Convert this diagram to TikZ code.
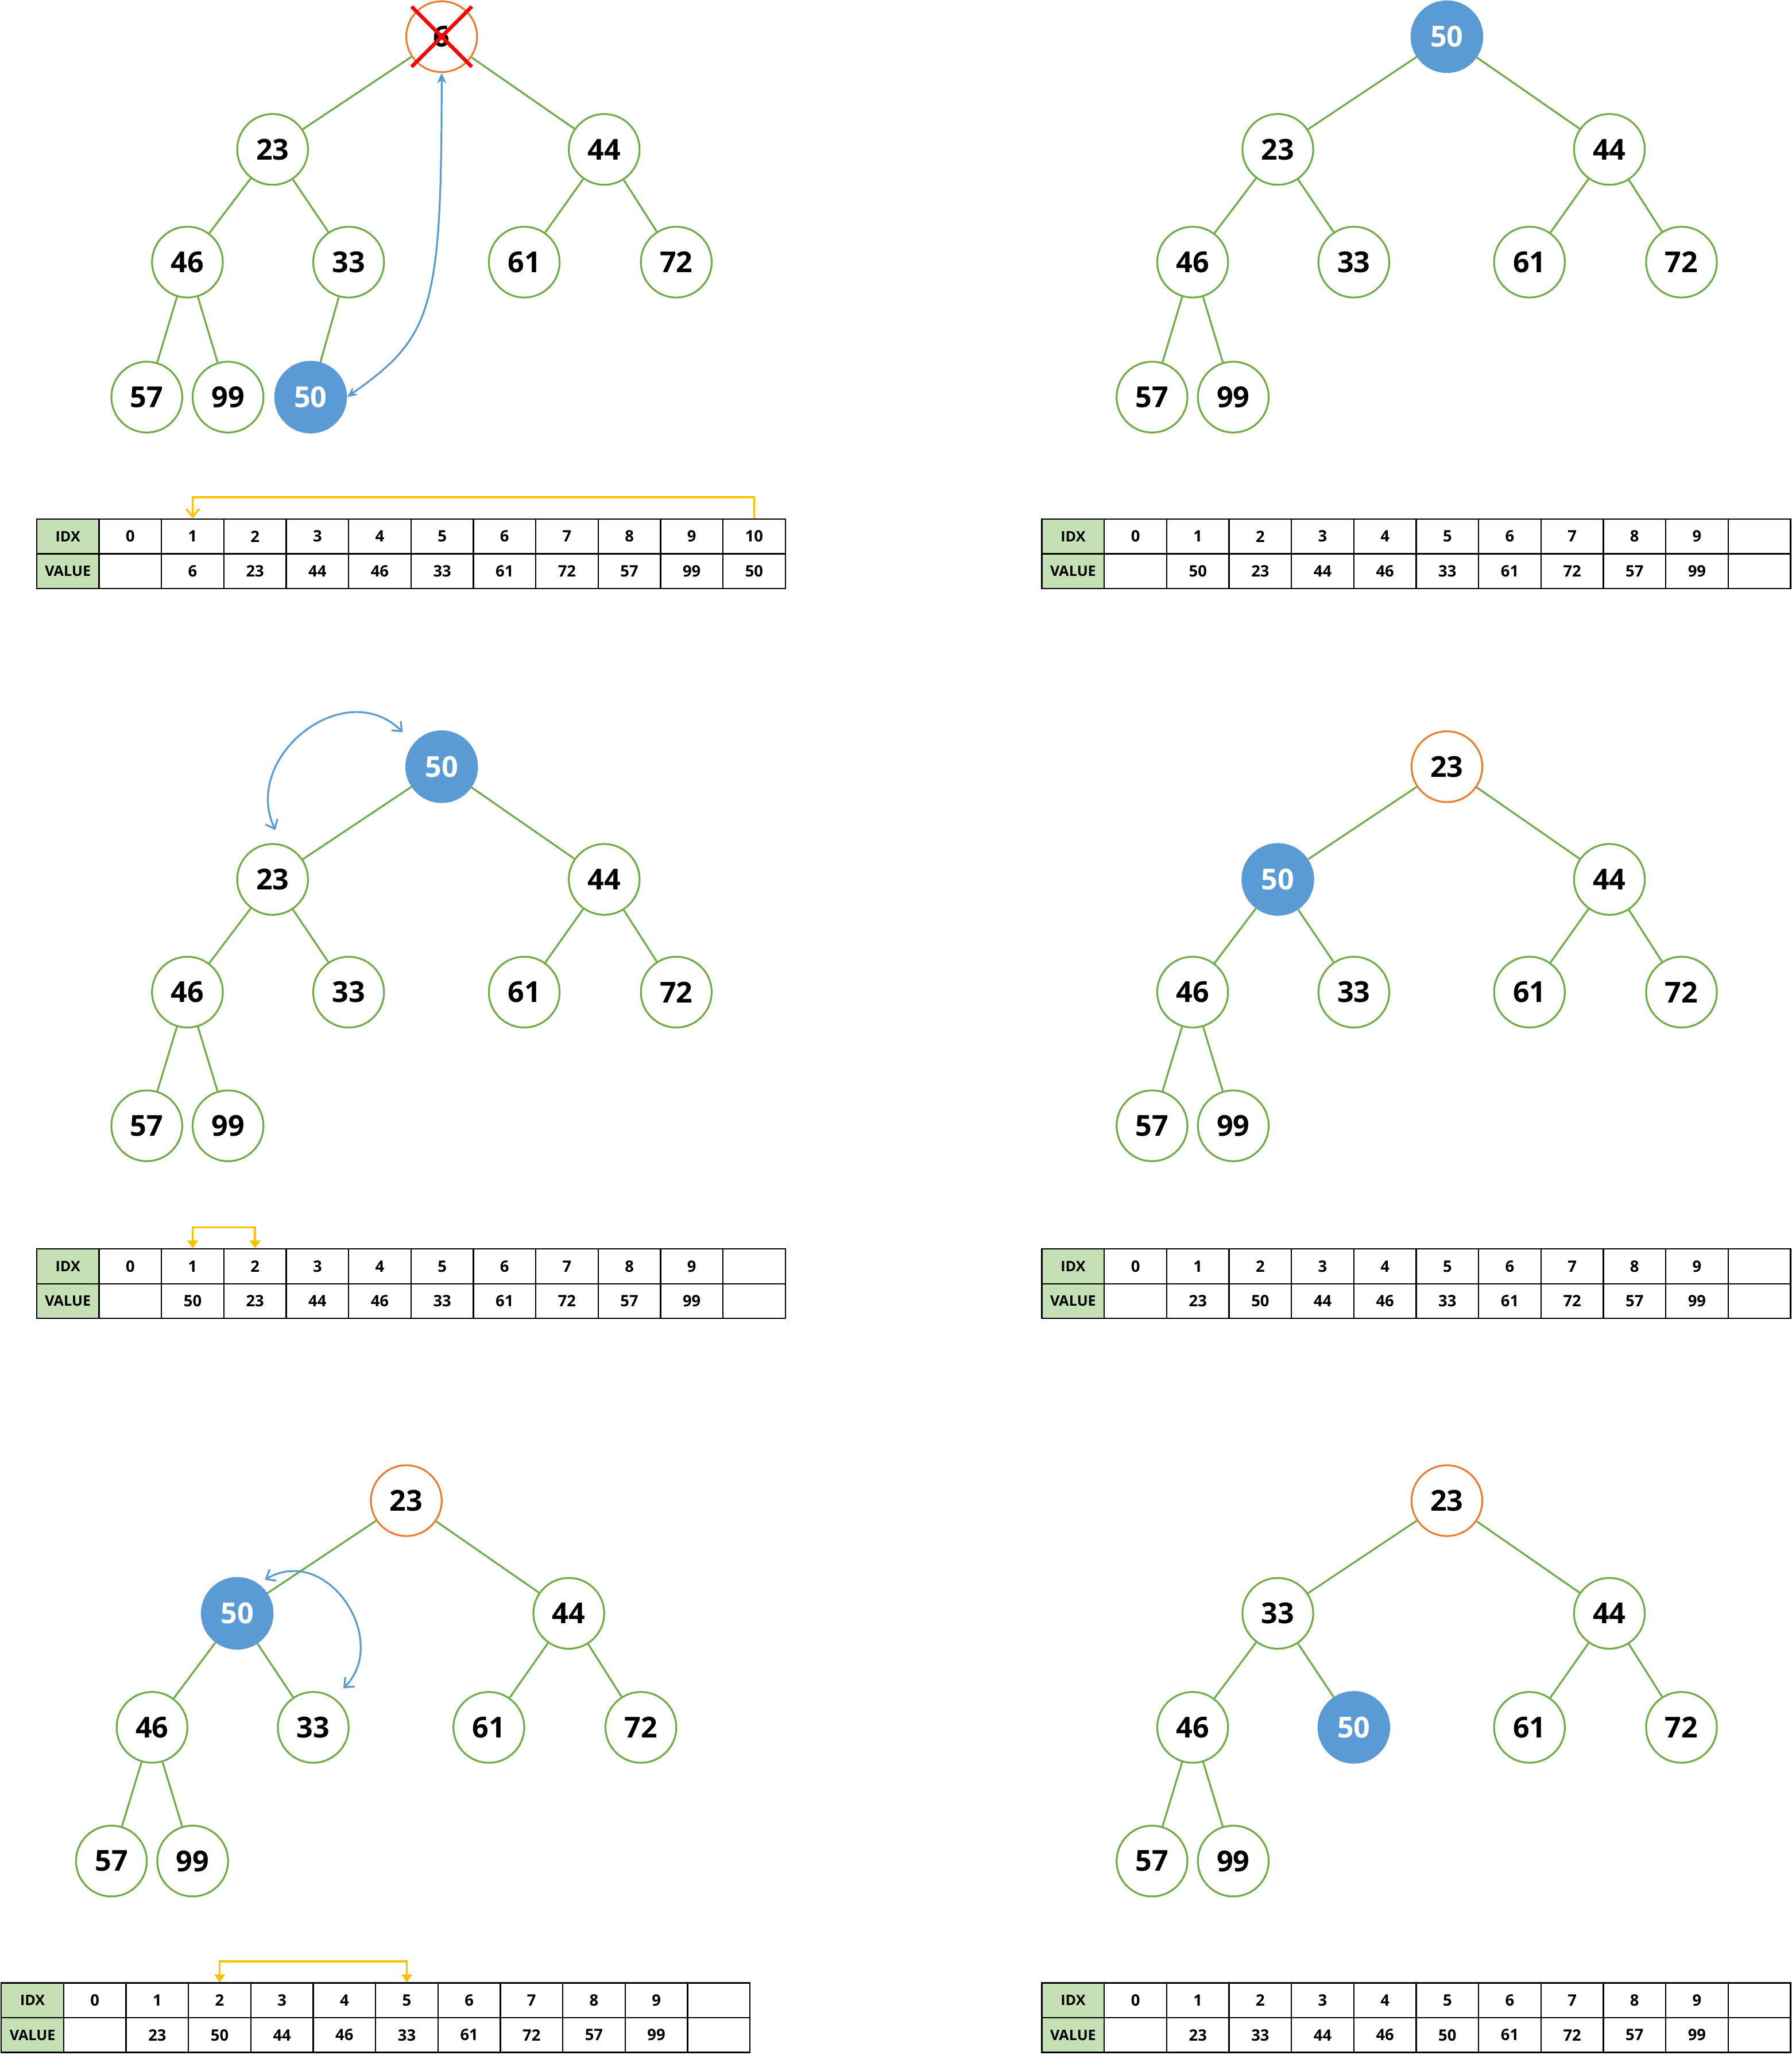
\documentclass[tikz,border=0pt]{standalone}
\usepackage{fontspec}
\setmainfont{Open Sans}
\usetikzlibrary{positioning,arrows.meta}

\definecolor{heapgreen}{HTML}{70AD47}
\definecolor{heapblue}{HTML}{5B9BD5}
\definecolor{heaporange}{HTML}{ED7D31}
\definecolor{heapyellow}{HTML}{FFC000}
\definecolor{headgreen}{HTML}{C5E0B4}

\begin{document}
\begin{tikzpicture}[
    x=0.5pt, y=-0.5pt, on grid,
    vertex/.style={draw=heapgreen, circle, line width=0.7pt, minimum size=27pt, inner sep=0pt, fill=white, font=\fontsize{11}{13}\selectfont\bfseries},
    moving/.style={vertex, draw=heapblue, fill=heapblue, text=white},
    topnode/.style={vertex, draw=heaporange},
    link/.style={draw=heapgreen, line width=0.7pt},
    cell/.style={draw, line width=0.5pt, minimum width=23.8pt, minimum height=13.25pt, inner sep=0pt, font=\fontsize{6}{7}\selectfont\bfseries},
    idxhead/.style={cell, fill=headgreen, font=\fontsize{5.5}{6}\selectfont\bfseries},
    move/.style={draw=heapblue, line width=0.7pt},
    swap/.style={draw=heapyellow, line width=0.8pt},
    cross/.style={draw=red, line width=1.4pt}
]
    \useasboundingbox (0,0) rectangle (1367,1568);

    % Step 1: last element moved to the root
    \node[topnode] (aRoot) at (337,28) {6};
    \node[vertex, below left=43pt and 64.5pt of aRoot] (aL) {23};
    \node[vertex, below right=43pt and 62pt of aRoot] (aR) {44};
    \node[vertex, below left=43pt and 32.5pt of aL] (aLL) {46};
    \node[vertex, below right=43pt and 29pt of aL] (aLR) {33};
    \node[vertex, below left=43pt and 30.5pt of aR] (aRL) {61};
    \node[vertex, below right=43pt and 27.5pt of aR] (aRR) {72};
    \node[vertex, below left=51.5pt and 15.5pt of aLL] (aLLL) {57};
    \node[vertex, below right=51.5pt and 15.5pt of aLL] (aLLR) {99};
    \node[moving, below left=51.5pt and 14.5pt of aLR] (aLRL) {50};
    \draw[link] (aRoot) -- (aL) (aRoot) -- (aR) (aL) -- (aLL) (aL) -- (aLR) (aR) -- (aRL)
        (aR) -- (aRR) (aLL) -- (aLLL) (aLL) -- (aLLR) (aLR) -- (aLRL);
    \draw[cross] ([shift={(-11.5pt,11.5pt)}]aRoot.center) -- ([shift={(11.5pt,-11.5pt)}]aRoot.center);
    \draw[cross] ([shift={(11.5pt,11.5pt)}]aRoot.center) -- ([shift={(-11.5pt,-11.5pt)}]aRoot.center);
    \draw[move, {Stealth[length=4pt,width=3.5pt]}-{Stealth[length=4pt,width=3.5pt]}]
        (aLRL.east) .. controls +(35:40pt) and +(0,-90pt) .. (aRoot.south);

    \node[idxhead] (aIdx) at (51.8,409.25) {IDX};
    \node[idxhead] (aVal) at (51.8,435.75) {VALUE};
    \foreach \v [count=\i from 0] in {0,1,2,3,4,5,6,7,8,9,10}
        \node[cell] (aI\i) at ({28+47.6*(\i+1.5)},409.25) {\v};
    \foreach \v [count=\i from 0] in {{},6,23,44,46,33,61,72,57,99,50}
        \node[cell] (aV\i) at ({28+47.6*(\i+1.5)},435.75) {\v};
    \draw[swap, -{Straight Barb[length=3pt,width=5pt]}] (aI10.north) -- ++(0,8pt) -| (aI1.north);

    % Step 2: new root
    \node[moving] (bRoot) at (1104,28) {50};
    \node[vertex, below left=43pt and 64.5pt of bRoot] (bL) {23};
    \node[vertex, below right=43pt and 62pt of bRoot] (bR) {44};
    \node[vertex, below left=43pt and 32.5pt of bL] (bLL) {46};
    \node[vertex, below right=43pt and 29pt of bL] (bLR) {33};
    \node[vertex, below left=43pt and 30.5pt of bR] (bRL) {61};
    \node[vertex, below right=43pt and 27.5pt of bR] (bRR) {72};
    \node[vertex, below left=51.5pt and 15.5pt of bLL] (bLLL) {57};
    \node[vertex, below right=51.5pt and 15.5pt of bLL] (bLLR) {99};
    \draw[link] (bRoot) -- (bL) (bRoot) -- (bR) (bL) -- (bLL) (bL) -- (bLR) (bR) -- (bRL)
        (bR) -- (bRR) (bLL) -- (bLLL) (bLL) -- (bLLR);

    \node[idxhead] (bIdx) at (818.8,409.25) {IDX};
    \node[idxhead] (bVal) at (818.8,435.75) {VALUE};
    \foreach \v [count=\i from 0] in {0,1,2,3,4,5,6,7,8,9,{}}
        \node[cell] (bI\i) at ({795+47.6*(\i+1.5)},409.25) {\v};
    \foreach \v [count=\i from 0] in {{},50,23,44,46,33,61,72,57,99,{}}
        \node[cell] (bV\i) at ({795+47.6*(\i+1.5)},435.75) {\v};

    % Step 3: compare root with the smaller child
    \node[moving] (cRoot) at (337,585) {50};
    \node[vertex, below left=43pt and 64.5pt of cRoot] (cL) {23};
    \node[vertex, below right=43pt and 62pt of cRoot] (cR) {44};
    \node[vertex, below left=43pt and 32.5pt of cL] (cLL) {46};
    \node[vertex, below right=43pt and 29pt of cL] (cLR) {33};
    \node[vertex, below left=43pt and 30.5pt of cR] (cRL) {61};
    \node[vertex, below right=43pt and 27.5pt of cR] (cRR) {72};
    \node[vertex, below left=51pt and 15.5pt of cLL] (cLLL) {57};
    \node[vertex, below right=51pt and 15.5pt of cLL] (cLLR) {99};
    \draw[link] (cRoot) -- (cL) (cRoot) -- (cR) (cL) -- (cLL) (cL) -- (cLR) (cR) -- (cRL)
        (cR) -- (cRR) (cLL) -- (cLLL) (cLL) -- (cLLR);
    \draw[move, {Straight Barb[length=3pt,width=5pt]}-{Straight Barb[length=3pt,width=5pt]},
        shorten <=6pt, shorten >=6pt] (cL.75) to[out=115, in=135, looseness=1.5] (cRoot.140);

    \node[idxhead] (cIdx) at (51.8,966.25) {IDX};
    \node[idxhead] (cVal) at (51.8,992.75) {VALUE};
    \foreach \v [count=\i from 0] in {0,1,2,3,4,5,6,7,8,9,{}}
        \node[cell] (cI\i) at ({28+47.6*(\i+1.5)},966.25) {\v};
    \foreach \v [count=\i from 0] in {{},50,23,44,46,33,61,72,57,99,{}}
        \node[cell] (cV\i) at ({28+47.6*(\i+1.5)},992.75) {\v};
    \draw[swap, {Triangle[length=3pt,width=4pt]}-{Triangle[length=3pt,width=4pt]}]
        (cI2.north) -- ++(0,8pt) -| (cI1.north);

    % Step 4: after first swap
    \node[topnode] (dRoot) at (1104,585) {23};
    \node[moving, below left=43pt and 64.5pt of dRoot] (dL) {50};
    \node[vertex, below right=43pt and 62pt of dRoot] (dR) {44};
    \node[vertex, below left=43pt and 32.5pt of dL] (dLL) {46};
    \node[vertex, below right=43pt and 29pt of dL] (dLR) {33};
    \node[vertex, below left=43pt and 30.5pt of dR] (dRL) {61};
    \node[vertex, below right=43pt and 27.5pt of dR] (dRR) {72};
    \node[vertex, below left=51pt and 15.5pt of dLL] (dLLL) {57};
    \node[vertex, below right=51pt and 15.5pt of dLL] (dLLR) {99};
    \draw[link] (dRoot) -- (dL) (dRoot) -- (dR) (dL) -- (dLL) (dL) -- (dLR) (dR) -- (dRL)
        (dR) -- (dRR) (dLL) -- (dLLL) (dLL) -- (dLLR);

    \node[idxhead] (dIdx) at (818.8,966.25) {IDX};
    \node[idxhead] (dVal) at (818.8,992.75) {VALUE};
    \foreach \v [count=\i from 0] in {0,1,2,3,4,5,6,7,8,9,{}}
        \node[cell] (dI\i) at ({795+47.6*(\i+1.5)},966.25) {\v};
    \foreach \v [count=\i from 0] in {{},23,50,44,46,33,61,72,57,99,{}}
        \node[cell] (dV\i) at ({795+47.6*(\i+1.5)},992.75) {\v};

    % Step 5: compare again
    \node[topnode] (eRoot) at (310,1145) {23};
    \node[moving, below left=43pt and 64.5pt of eRoot] (eL) {50};
    \node[vertex, below right=43pt and 62pt of eRoot] (eR) {44};
    \node[vertex, below left=43.5pt and 32.5pt of eL] (eLL) {46};
    \node[vertex, below right=43.5pt and 29pt of eL] (eLR) {33};
    \node[vertex, below left=43.5pt and 30.5pt of eR] (eRL) {61};
    \node[vertex, below right=43.5pt and 27.5pt of eR] (eRR) {72};
    \node[vertex, below left=51pt and 15.5pt of eLL] (eLLL) {57};
    \node[vertex, below right=51pt and 15.5pt of eLL] (eLLR) {99};
    \draw[link] (eRoot) -- (eL) (eRoot) -- (eR) (eL) -- (eLL) (eL) -- (eLR) (eR) -- (eRL)
        (eR) -- (eRR) (eLL) -- (eLLL) (eLL) -- (eLLR);
    \draw[move, {Straight Barb[length=3pt,width=5pt]}-{Straight Barb[length=3pt,width=5pt]},
        shorten <=3pt, shorten >=5pt] (eL.55) to[out=30, in=45, looseness=1.5] (eLR.55);

    \node[idxhead] (eIdx) at (24.8,1526.25) {IDX};
    \node[idxhead] (eVal) at (24.8,1552.75) {VALUE};
    \foreach \v [count=\i from 0] in {0,1,2,3,4,5,6,7,8,9,{}}
        \node[cell] (eI\i) at ({1+47.6*(\i+1.5)},1526.25) {\v};
    \foreach \v [count=\i from 0] in {{},23,50,44,46,33,61,72,57,99,{}}
        \node[cell] (eV\i) at ({1+47.6*(\i+1.5)},1552.75) {\v};
    \draw[swap, {Triangle[length=3pt,width=4pt]}-{Triangle[length=3pt,width=4pt]}]
        (eI5.north) -- ++(0,8pt) -| (eI2.north);

    % Step 6: heap restored
    \node[topnode] (fRoot) at (1104,1145) {23};
    \node[vertex, below left=43pt and 64.5pt of fRoot] (fL) {33};
    \node[vertex, below right=43pt and 62pt of fRoot] (fR) {44};
    \node[vertex, below left=43.5pt and 32.5pt of fL] (fLL) {46};
    \node[moving, below right=43.5pt and 29pt of fL] (fLR) {50};
    \node[vertex, below left=43.5pt and 30.5pt of fR] (fRL) {61};
    \node[vertex, below right=43.5pt and 27.5pt of fR] (fRR) {72};
    \node[vertex, below left=51pt and 15.5pt of fLL] (fLLL) {57};
    \node[vertex, below right=51pt and 15.5pt of fLL] (fLLR) {99};
    \draw[link] (fRoot) -- (fL) (fRoot) -- (fR) (fL) -- (fLL) (fL) -- (fLR) (fR) -- (fRL)
        (fR) -- (fRR) (fLL) -- (fLLL) (fLL) -- (fLLR);

    \node[idxhead] (fIdx) at (818.8,1526.25) {IDX};
    \node[idxhead] (fVal) at (818.8,1552.75) {VALUE};
    \foreach \v [count=\i from 0] in {0,1,2,3,4,5,6,7,8,9,{}}
        \node[cell] (fI\i) at ({795+47.6*(\i+1.5)},1526.25) {\v};
    \foreach \v [count=\i from 0] in {{},23,33,44,46,50,61,72,57,99,{}}
        \node[cell] (fV\i) at ({795+47.6*(\i+1.5)},1552.75) {\v};

\end{tikzpicture}
\end{document}
